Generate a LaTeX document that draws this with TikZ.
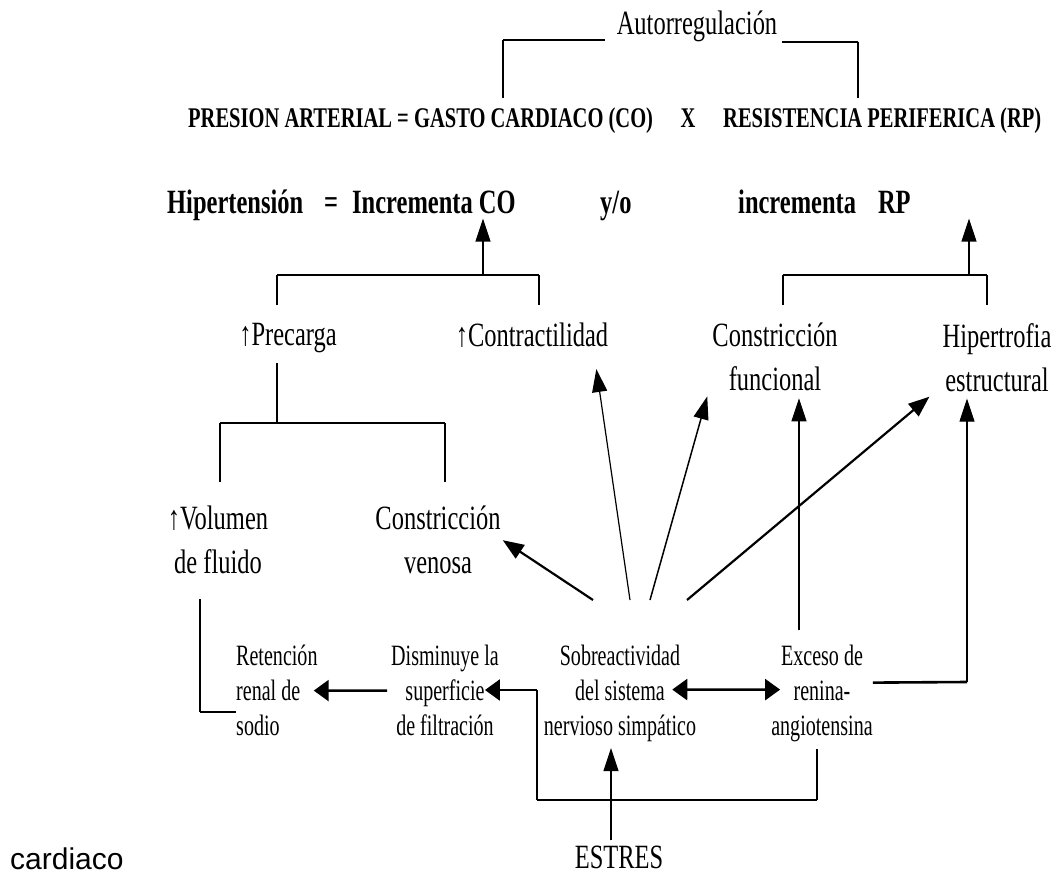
\documentclass[tikz,border=0pt]{standalone}
\usepackage{fontspec}
\setmainfont{Liberation Serif}[FakeStretch=0.72]
\newfontfamily\smallfam{Liberation Serif}[FakeStretch=0.68]
\newfontfamily\cardfont{Liberation Sans}
\usetikzlibrary{arrows.meta,calc}

\begin{document}
\begin{tikzpicture}[x=1pt,y=-1pt,
    nodetext/.style={inner sep=0pt,align=center,font=\fontsize{34}{44}\selectfont},
    eqtext/.style={inner sep=0pt,font=\bfseries\fontsize{28.5}{34}\selectfont},
    hiptext/.style={inner sep=0pt,font=\bfseries\fontsize{34}{40}\selectfont},
    smalltext/.style={inner sep=0pt,align=center,font=\smallfam\fontsize{29.5}{35}\selectfont},
    thinline/.style={line width=1.1pt},
    thickline/.style={line width=2.6pt},
    upto/.style={-{Triangle[length=23pt,width=15pt]}},
    sideto/.style={-{Triangle[length=15pt,width=21pt]}},
    slantto/.style={-{Triangle[length=21pt,width=16pt]}}]
  \useasboundingbox (0,0) rectangle (1053,875);

  \node[nodetext,anchor=base] (auto) at (697,35) {Autorregulación};
  \node[eqtext,anchor=base west] (pa) at (188,128) {PRESION ARTERIAL = GASTO CARDIACO (CO)};
  \node[eqtext,anchor=base] (por) at (688,128) {X};
  \node[eqtext,anchor=base west] (rp) at (723,128) {RESISTENCIA PERIFERICA (RP)};

  \node[hiptext,anchor=base west] (hip) at (167,213) {Hipertensión};
  \node[hiptext,anchor=base] (igual) at (331,213) {=};
  \node[hiptext,anchor=base west] (inco) at (352,213) {Incrementa CO};
  \node[hiptext,anchor=base west] (yo) at (600,213) {y/o};
  \node[hiptext,anchor=base west] (inrp) at (738,213) {incrementa\hspace{22pt}RP};

  \node[nodetext,anchor=north] (pre) at (288,323) {↑Precarga};
  \node[nodetext,anchor=north] (contr) at (532,323) {↑Contractilidad};
  \node[nodetext,anchor=north] (cfun) at (775,323) {Constricción\\funcional};
  \node[nodetext,anchor=north] (hiper) at (997,323) {Hipertrofia\\estructural};

  \node[nodetext,anchor=north] (vol) at (218,506) {↑Volumen\\de fluido};
  \node[nodetext,anchor=north] (cven) at (438,506) {Constricción\\venosa};

  \node[smalltext,align=left,anchor=north west] (ret) at (236,645) {Retención\\renal de\\sodio};
  \node[smalltext,anchor=north] (dis) at (445,645) {Disminuye la\\superficie\\de filtración};
  \node[smalltext,anchor=north] (sob) at (620,645) {Sobreactividad\\del sistema\\nervioso simpático};
  \node[smalltext,anchor=north] (exc) at (822,645) {Exceso de\\renina-\\angiotensina};

  \node[nodetext,anchor=base] (estres) at (619,868) {ESTRES};
  \node[inner sep=0pt,anchor=base west,font=\cardfont\fontsize{30}{36}\selectfont] (card) at (10,869) {cardiaco};

  % autorregulacion
  \coordinate (auL) at (503,40);
  \coordinate (auR) at (858,42);
  \draw[thickline] (auL) -- ($(auL -| auto.west)+(-12,0)$);
  \draw[thinline] (auL) -- ($(auL |- pa.north)+(0,-10)$);
  \draw[thickline] ($(auR -| auto.east)+(5,0)$) -- (auR);
  \draw[thinline] (auR) -- ($(auR |- rp.north)+(0,-10)$);

  % gasto cardiaco
  \coordinate (coL) at (277,275);
  \coordinate (coR) at (539,275);
  \coordinate (coM) at (483,275);
  \draw[thickline] (coL) -- (coR);
  \draw[thinline] (coL) -- ($(coL |- pre.north)+(0,-18)$);
  \draw[thinline] (coR) -- ($(coR |- contr.north)+(0,-18)$);
  \draw[thinline,upto] (coM) -- ($(coM |- inco.south)+(0,5)$);

  % resistencia
  \coordinate (rpL) at (783,275);
  \coordinate (rpR) at (987,275);
  \coordinate (rpM) at (969,275);
  \draw[thickline] (rpL) -- (rpR);
  \draw[thinline] (rpL) -- ($(rpL |- cfun.north)+(0,-18)$);
  \draw[thinline] (rpR) -- ($(rpR |- hiper.north)+(0,-18)$);
  \draw[thinline,upto] (rpM) -- ($(rpM |- inrp.south)+(0,5)$);

  % precarga
  \coordinate (prL) at (220,423);
  \coordinate (prR) at (445,423);
  \coordinate (prM) at (277,423);
  \draw[thinline] ($(prM |- pre.south)+(0,10)$) -- (prM);
  \draw[thickline] (prL) -- (prR);
  \draw[thinline] (prL) -- ($(prL |- vol.north)+(0,-24)$);
  \draw[thinline] (prR) -- ($(prR |- cven.north)+(0,-24)$);

  \coordinate (flL) at (200,712);
  \draw[thinline] ($(flL |- vol.south)+(0,25)$) -- (flL);
  \draw[thickline] (flL) -- (flL -| ret.west);

  \draw[thickline,sideto] ($(dis.west)+(-4,0)$) -- ($(ret.east)+(-4,0)$);

  \coordinate (lpR) at (817,800);
  \coordinate (lpL) at (537,800);
  \coordinate (lpU) at (537,690);
  \draw[thinline] ($(exc.south)+(-5,7)$) -- (lpR);
  \draw[thickline] (lpR) -- (lpL);
  \draw[thinline] (lpL) -- (lpU);
  \draw[thickline,sideto] (lpU) -- ($(lpU -| dis.east)+(-14,0)$);
  \draw[thickline,{Triangle[length=15pt,width=21pt]}-{Triangle[length=15pt,width=21pt]}]
    ($(sob.east)+(-24,-4)$) -- ($(exc.west)+(9,-4)$);

  \coordinate (rnR) at (967,682);
  \draw[thickline] ($(exc.east)+(0,-11)$) -- (rnR);
  \draw[thinline,upto] (rnR) -- ($(rnR |- hiper.south)+(0,7)$);

  \coordinate (exU) at ($(exc.north)+(-23,-15)$);
  \draw[thinline,upto] (exU) -- ($(exU |- cfun.south)+(0,7)$);

  \draw[thinline,upto] ($(estres.north)+(-8,-5)$) -- ($(sob.south)+(-9,6)$);

  \draw[line width=2.2pt,slantto] ($(sob.north)+(-27,-45)$) -- ($(cven.east)+(2,0)$);
  \draw[line width=1.2pt,upto] ($(sob.north)+(10,-45)$) -- ($(contr.south east)+(-12,21)$);
  \draw[line width=1.5pt,upto] ($(sob.north)+(30,-45)$) -- ($(cfun.south west)+(-5,5)$);
  \draw[line width=2.2pt,slantto] ($(sob.north)+(67,-45)$) -- ($(hiper.south west)+(-13,5)$);
\end{tikzpicture}
\end{document}
